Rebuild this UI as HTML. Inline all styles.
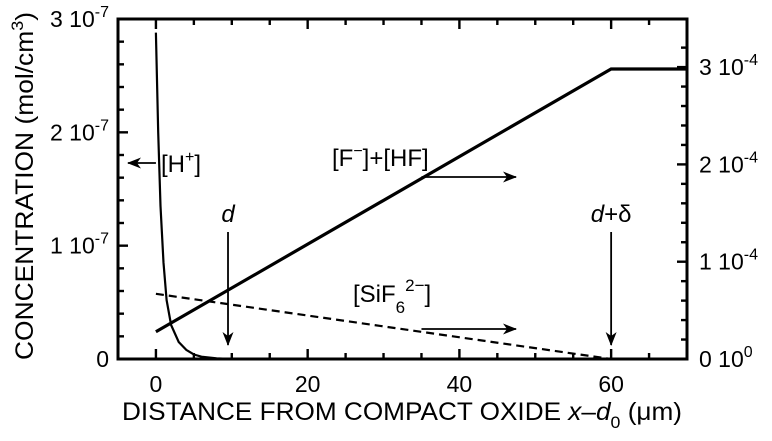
<!DOCTYPE html>
<html><head><meta charset="utf-8"><style>
html,body{margin:0;padding:0;background:#fff;}
svg{display:block;font-family:"Liberation Sans",Arial,sans-serif;}
</style></head><body>
<svg id="chart" width="772" height="441" viewBox="0 0 772 441" xmlns="http://www.w3.org/2000/svg">
<defs>
<marker id="ah" markerWidth="14" markerHeight="11" refX="13" refY="5.5" orient="auto" markerUnits="userSpaceOnUse">
<path d="M0,0 L14,5.5 L0,11 L4,5.5 Z" fill="#000"/>
</marker>
</defs>
<rect x="116.5" y="17.5" width="572" height="3" fill="#000"/>
<rect x="116.5" y="17.5" width="3" height="343" fill="#000"/>
<rect x="685.5" y="17.5" width="3" height="343" fill="#000"/>
<rect x="116.5" y="357.5" width="572" height="3" fill="#000"/>
<g id="ticks"></g>
<g id="plot"></g>
</svg>
<script>
const hX = [0,0.3,0.6,1,1.4,2,3,4,5,6,8,10];
const hVals = [2.88,2.0,1.35,0.85,0.52,0.3,0.15,0.08,0.04,0.02,0.005,0];
const fX = [0,60,70];
const fVals = [0.28,2.98,2.98];
const sX = [0,60];
const sVals = [0.67,0];
const xTicks = [0,20,40,60];
const leftTicks = [0,1,2,3];
const rightTicks = [0,1,2,3];

const X0=118, X1=687, Y0=359, Y1=19;
const xmin=-5, xmax=70;
function sx(v){return X0+(v-xmin)/(xmax-xmin)*(X1-X0);}
function syL(v){return Y0-v/3*(Y0-Y1);}
function syR(v){return Y0-v*97.3;}
const NS="http://www.w3.org/2000/svg";
const g=document.getElementById('plot');
const tg=document.getElementById('ticks');
function mk(tag,attrs,parent){const e=document.createElementNS(NS,tag);for(const k in attrs)e.setAttribute(k,attrs[k]);(parent||g).appendChild(e);return e;}
function tick(x,y,w,h){const r=mk('rect',{x:x,y:y,width:w,height:h,fill:'#000'},tg);
  
  }

for(let v=0;v<=65;v+=5){
  const big=(v%20===0);const L=big?10:6;const x=sx(v);
  tick(x-1.2,Y0-L,2.4,L);
  tick(x-1.2,Y1,2.4,L);
}
for(let i=0;i<=15;i++){
  const y=syL(i*0.2);const L=(i%5===0)?10:6;
  tick(X0,y-1.2,L,2.4);
}
for(let i=0;i<=16;i++){
  const y=syR(i*0.2);if(y<Y1+2)continue;const L=(i%5===0)?10:6;
  tick(X1-L,y-1.2,L,2.4);
}

xTicks.forEach(v=>{
  const t=mk('text',{x:sx(v),y:Y0+33,'font-size':23,'text-anchor':'middle'});t.textContent=v;
  
  
});
leftTicks.forEach(v=>{
  const t=mk('text',{x:109,y:syL(v)+8,'font-size':23,'text-anchor':'end'});
  if(v===0){t.textContent='0';}else{t.innerHTML=v+' 10<tspan dy="-10" font-size="16">-7</tspan>';}
  
  
});
rightTicks.forEach(v=>{
  const t=mk('text',{x:699,y:syR(v)+8,'font-size':23,'text-anchor':'start'});
  t.innerHTML=v+' 10<tspan dy="-10" font-size="16">'+(v===0?'0':'-4')+'</tspan>';
  
  
});

function pathOf(xs,vs,fy){return xs.map((x,i)=>(i?'L':'M')+sx(x).toFixed(1)+','+fy(vs[i]).toFixed(1)).join(' ');}
const hp=mk('path',{d:pathOf(hX,hVals,syL),fill:'none',stroke:'#000','stroke-width':2.2});


const fp=mk('path',{d:pathOf(fX,fVals,syR),fill:'none',stroke:'#000','stroke-width':3.2});


const sp=mk('path',{d:pathOf(sX,sVals,syR),fill:'none',stroke:'#000','stroke-width':2.2,'stroke-dasharray':'8,5'});



function arrow(x1,y1,x2,y2,name){const a=mk('line',{x1:x1,y1:y1,x2:x2,y2:y2,stroke:'#000','stroke-width':1.8,'marker-end':'url(#ah)'});
  
  }
arrow(sx(0),163,128,163,'h-plus-arrow');
arrow(sx(35),177,516,177,'f-hf-arrow');
arrow(sx(35),329,516,329,'sif6-arrow');
arrow(sx(9.5),232,sx(9.5),345,'d-arrow');
arrow(sx(60),232,sx(60),345,'d-delta-arrow');

function txt(x,y,html,name,extra){const t=mk('text',Object.assign({x:x,y:y,'font-size':24},extra||{}));t.innerHTML=html;
  
  return t;}
txt(161,172,'[H<tspan dy="-10" font-size="16">+</tspan><tspan dy="10">]</tspan>','h-plus-label');
txt(332,166,'[F<tspan dy="-10" font-size="16">−</tspan><tspan dy="10">]+[HF]</tspan>','f-hf-label');
txt(353,302,'[SiF<tspan dy="11" font-size="17">6</tspan><tspan dy="-22" font-size="17">2−</tspan><tspan dy="11">]</tspan>','sif6-label');
txt(sx(9.5),222,'<tspan font-style="italic">d</tspan>','d-label',{'text-anchor':'middle'});
txt(sx(60),222,'<tspan font-style="italic">d</tspan>+δ','d-delta-label',{'text-anchor':'middle'});

txt(122,420,'DISTANCE FROM COMPACT OXIDE <tspan font-style="italic">x</tspan>–<tspan font-style="italic">d</tspan><tspan dy="8" font-size="17">0</tspan><tspan dy="-8"> (μm)</tspan>','x-axis-title',{'font-size':25,textLength:560,lengthAdjust:'spacingAndGlyphs'});
txt(0,0,'CONCENTRATION (mol/cm<tspan dy="-10" font-size="17">3</tspan><tspan dy="10">)</tspan>','y-axis-title',{'font-size':25,textLength:348,lengthAdjust:'spacingAndGlyphs',transform:'translate(33,360) rotate(-90)'});
</script>
</body></html>
